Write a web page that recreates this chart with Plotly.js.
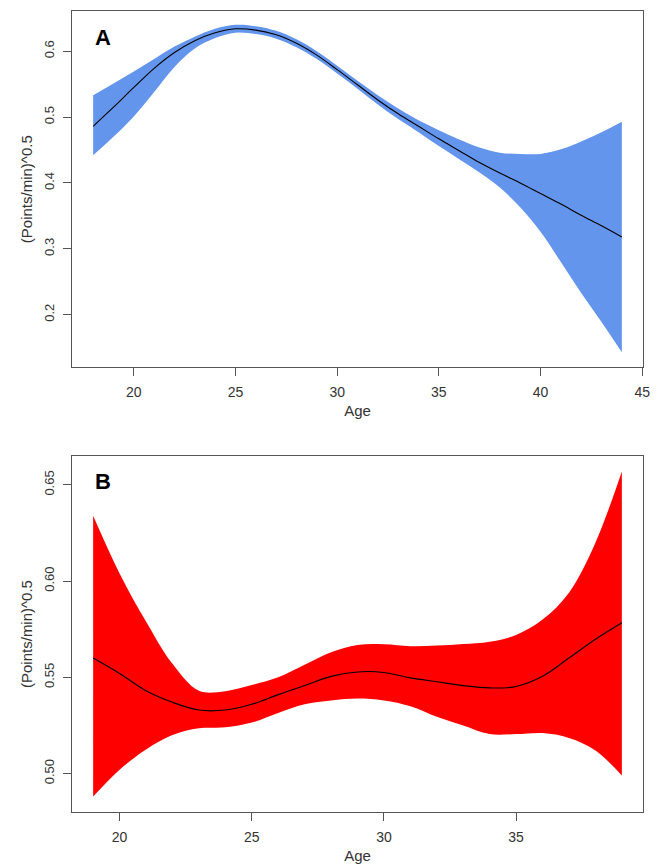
<!DOCTYPE html>
<html><head><meta charset="utf-8">
<script src="https://cdn.plot.ly/plotly-3.0.1.min.js"></script>
<style>html,body{margin:0;padding:0;background:#fff}</style>
</head><body><div id="chart" style="width:656px;height:865px"></div>
<script>
// Panel A
const agesA  = [18,19,20,21,22,23,24,25,26,27,28,29,30,31,32,33,34,35,36,37,38,39,40,41,42,43,44];
const fitA   = [0.486,0.515,0.545,0.574,0.598,0.616,0.628,0.634,0.632,0.625,0.612,0.594,0.572,0.549,0.526,0.505,0.486,0.467,0.449,0.431,0.415,0.400,0.384,0.368,0.351,0.335,0.318];
const upperA = [0.533,0.551,0.569,0.588,0.607,0.622,0.634,0.640,0.638,0.631,0.618,0.600,0.578,0.555,0.533,0.513,0.495,0.480,0.466,0.454,0.446,0.444,0.444,0.451,0.463,0.477,0.493];
const lowerA = [0.442,0.470,0.501,0.538,0.576,0.604,0.620,0.628,0.626,0.619,0.606,0.588,0.566,0.543,0.519,0.497,0.477,0.456,0.436,0.416,0.393,0.363,0.326,0.280,0.233,0.189,0.143];
// Panel B
const agesB  = [19,20,21,22,23,24,25,26,27,28,29,30,31,32,33,34,35,36,37,38,39];
const fitB   = [0.560,0.552,0.543,0.537,0.533,0.533,0.536,0.541,0.5457,0.5505,0.5528,0.5525,0.5497,0.5477,0.5457,0.5445,0.5452,0.5505,0.5600,0.5698,0.5784];
const upperB = [0.634,0.604,0.579,0.557,0.543,0.5428,0.546,0.550,0.5565,0.5630,0.5668,0.5672,0.5662,0.5665,0.5673,0.5685,0.572,0.580,0.594,0.620,0.657];
const lowerB = [0.488,0.502,0.5125,0.520,0.5235,0.524,0.5265,0.5315,0.536,0.538,0.539,0.538,0.535,0.5295,0.525,0.5205,0.5205,0.521,0.5185,0.512,0.499];
// Ticks
const xTicksA = [20,25,30,35,40,45];
const yTicksA = [0.2,0.3,0.4,0.5,0.6];
const yTickTextA = ['0.2','0.3','0.4','0.5','0.6'];
const xTicksB = [20,25,30,35];
const yTicksB = [0.50,0.55,0.60,0.65];
const yTickTextB = ['0.50','0.55','0.60','0.65'];

const FONT = 'Liberation Sans, Arial, sans-serif';
const axisCol = '#555';

function band(x, lo, hi, fit, col, xa, ya) {
  return [
    {x:x, y:lo, mode:'lines', line:{width:0, color:col, shape:'spline'}, xaxis:xa, yaxis:ya, showlegend:false, hoverinfo:'skip'},
    {x:x, y:hi, mode:'lines', line:{width:0, color:col, shape:'spline'}, fill:'tonexty', fillcolor:col, xaxis:xa, yaxis:ya, showlegend:false, hoverinfo:'skip'},
    {x:x, y:fit, mode:'lines', line:{width:1.1, color:'#000', shape:'spline'}, xaxis:xa, yaxis:ya, showlegend:false}
  ];
}

const data = [].concat(
  band(agesA, lowerA, upperA, fitA, '#6495ED', 'x', 'y'),
  band(agesB, lowerB, upperB, fitB, '#FF0000', 'x2', 'y2')
);

function xax(range, ticks, anchor) {
  return {domain:[0,1], anchor:anchor, range:range, tickmode:'array', tickvals:ticks, ticktext:ticks.map(String),
    ticks:'outside', ticklen:8, tickcolor:axisCol, tickwidth:1, showline:true, linecolor:axisCol, linewidth:1, mirror:true,
    showgrid:false, zeroline:false, tickfont:{family:FONT, size:14, color:'#333'}, ticklabelstandoff:4,
    title:{text:'Age', font:{family:FONT, size:15, color:'#333'}, standoff:6}};
}
function yax(range, ticks, text, domain, anchor) {
  return {domain:domain, anchor:anchor, range:range, tickmode:'array', tickvals:ticks, ticktext:text,
    ticks:'outside', ticklen:8, tickcolor:axisCol, tickwidth:1, showline:true, linecolor:axisCol, linewidth:1, mirror:true,
    showgrid:false, zeroline:false, tickangle:-90, tickfont:{family:FONT, size:13, color:'#333'}, ticklabelstandoff:4,
    title:{text:'(Points/min)^0.5', font:{family:FONT, size:15, color:'#333'}, standoff:5}};
}

const layout = {
  width:656, height:865,
  margin:{l:72, r:13, t:11, b:53},
  paper_bgcolor:'#fff', plot_bgcolor:'#fff',
  showlegend:false,
  xaxis: xax([16.96,45.04], xTicksA, 'y'),
  yaxis: yax([0.12,0.661], yTicksA, yTickTextA, [0.555,1], 'x'),
  xaxis2: xax([18.2,39.8], xTicksB, 'y2'),
  yaxis2: yax([0.48,0.665], yTicksB, yTickTextB, [0,0.4444], 'x2'),
  annotations:[
    {text:'<b>A</b>', xref:'paper', yref:'paper', x:0.036, y:0.967, xanchor:'left', yanchor:'middle', showarrow:false, font:{family:FONT, size:22, color:'#000'}},
    {text:'<b>B</b>', xref:'paper', yref:'paper', x:0.036, y:0.4126, xanchor:'left', yanchor:'middle', showarrow:false, font:{family:FONT, size:22, color:'#000'}}
  ]
};

Plotly.newPlot('chart', data, layout, {displayModeBar:false, staticPlot:true});
</script>
</body></html>
